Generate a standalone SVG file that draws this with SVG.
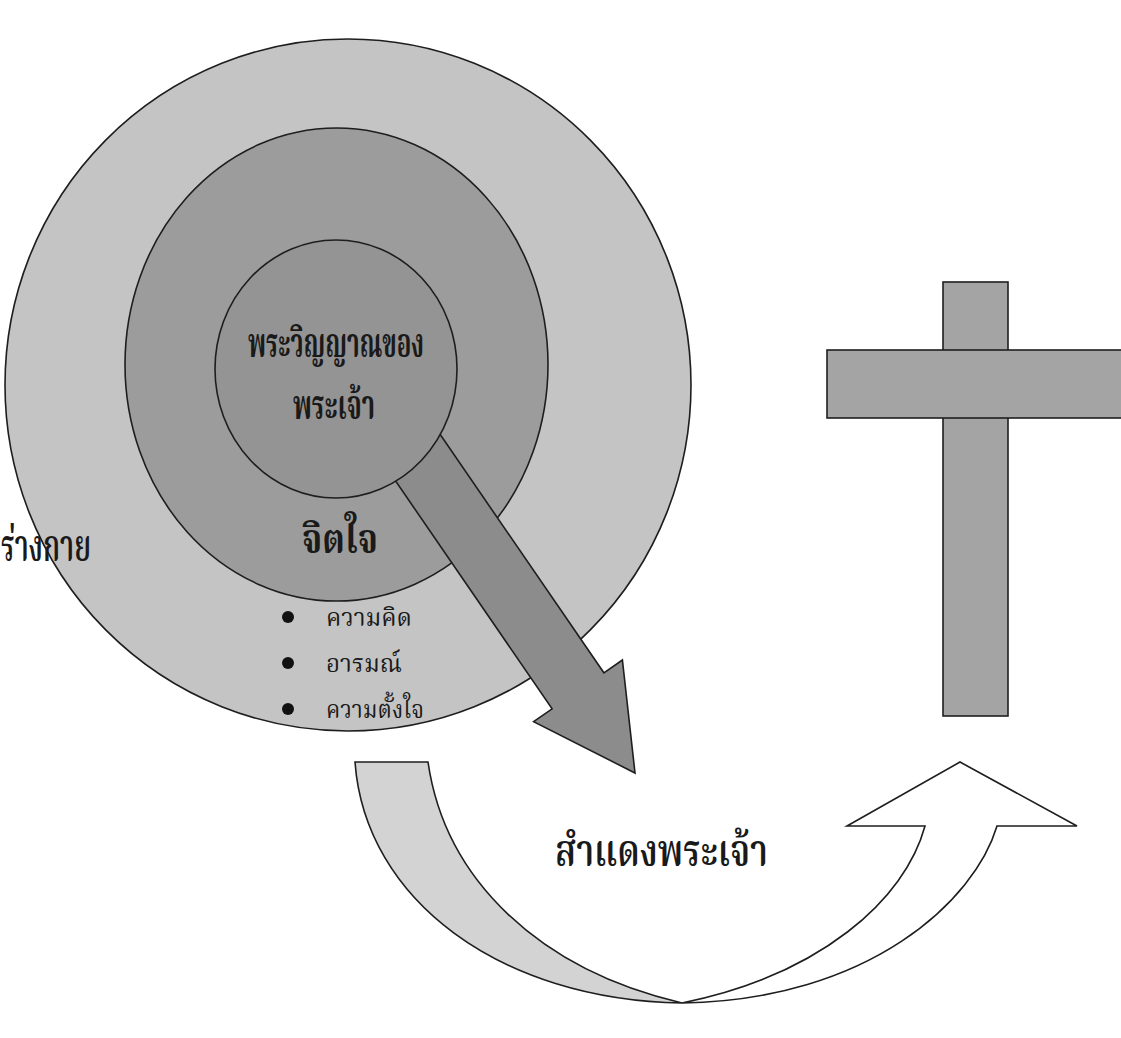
<svg xmlns="http://www.w3.org/2000/svg" width="1121" height="1038" viewBox="0 0 1121 1038">
<style>
.ln{stroke:#1e1e1e;stroke-width:1.6}
.th{font-family:"Noto Serif Thai","Noto Sans Thai","Tlwg Typo","Loma","Garuda","Noto Sans","DejaVu Sans",sans-serif;fill:#1a1a1a}
.big{font-size:40px;font-weight:bold}
.lab{font-size:44px;font-weight:600}
.sm{font-size:25px}
</style>
<rect width="1121" height="1038" fill="#ffffff"/>
<g id="outer"><ellipse class="ln" cx="348" cy="385" rx="343" ry="346" fill="#c4c4c4"/></g>
<g id="middle"><ellipse class="ln" cx="336.5" cy="364.5" rx="211.5" ry="236.5" fill="#9c9c9c"/></g>
<g id="connectors">
<polygon id="big-arrow" class="ln" fill="#8c8c8c" points="395.4,369.3 603.9,672.8 622.4,660 635,773 533.6,721.6 552.1,708.8 343.6,405.3"/>
</g>
<g id="inner"><ellipse class="ln" cx="336" cy="369" rx="121" ry="129" fill="#949494"/>
<text class="th big" x="336" y="357" text-anchor="middle" textLength="176" lengthAdjust="spacingAndGlyphs">พระวิญญาณของ</text>
<text class="th big" x="334" y="419" text-anchor="middle" textLength="82" lengthAdjust="spacingAndGlyphs">พระเจ้า</text>
</g>
<g id="label-mind"><text class="th big" x="340" y="553" text-anchor="middle" textLength="76" lengthAdjust="spacingAndGlyphs">จิตใจ</text></g>
<g id="label-body"><text class="th lab" x="1" y="561" textLength="90" lengthAdjust="spacingAndGlyphs">ร่างกาย</text></g>
<g id="bullets">
<circle cx="288" cy="617" r="6" fill="#111"/>
<circle cx="288" cy="663" r="6" fill="#111"/>
<circle cx="288" cy="709" r="6" fill="#111"/>
<text class="th sm" x="326" y="626" textLength="86" lengthAdjust="spacingAndGlyphs">ความคิด</text>
<text class="th sm" x="326" y="672" textLength="76" lengthAdjust="spacingAndGlyphs">อารมณ์</text>
<text class="th sm" x="326" y="718" textLength="98" lengthAdjust="spacingAndGlyphs">ความตั้งใจ</text>
</g>
<g id="cross">
<rect class="ln" x="943" y="282" width="65" height="434" fill="#a4a4a4"/>
<rect class="ln" x="827" y="350" width="300" height="68" fill="#a4a4a4"/>
</g>
<g id="u-turn-arrow">
<path class="ln" fill="#d3d3d3" d="M355,762 L428,762 C445,880 540,970 682,1003 C500,1000 365,900 355,762 Z"/>
<path class="ln" fill="#ffffff" d="M682,1003 C820,975 905,900 925,826 L847,826 L960,762 L1077,826 L997,826 C975,900 870,1000 682,1003 Z"/>
</g>
<g id="label-reveal"><text class="th lab" x="555" y="866" textLength="213" lengthAdjust="spacingAndGlyphs">สำแดงพระเจ้า</text></g>
</svg>
